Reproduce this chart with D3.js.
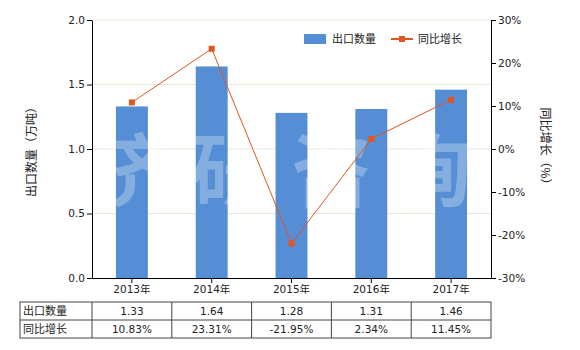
<!DOCTYPE html>
<html>
<head>
<meta charset="utf-8">
<script src="https://cdn.jsdelivr.net/npm/d3@7"></script>
<style>
  body { margin: 0; background: #fff; }
  svg, svg text { font-family: "DejaVu Sans", "Noto Sans CJK SC", sans-serif; }
  text { fill: #222; }
  .cjk { font-family: "Noto Sans CJK SC", sans-serif !important; }
</style>
</head>
<body>
<div id="chart"></div>
<script>
const years = ['2013年', '2014年', '2015年', '2016年', '2017年'];
const quantity = [1.33, 1.64, 1.28, 1.31, 1.46];
const growth = [10.83, 23.31, -21.95, 2.34, 11.45];
const quantityLabels = ['1.33', '1.64', '1.28', '1.31', '1.46'];
const growthLabels = ['10.83%', '23.31%', '-21.95%', '2.34%', '11.45%'];
const leftTicks = [0, 0.5, 1.0, 1.5, 2.0];
const rightTicks = [-30, -20, -10, 0, 10, 20, 30];

const W = 580, H = 350;
const margin = { top: 20, left: 92, right: 89, bottom: 72 };
const innerW = W - margin.left - margin.right;
const innerH = H - margin.top - margin.bottom;

const svg = d3.select('#chart').append('svg')
  .attr('width', W).attr('height', H);

const g = svg.append('g')
  .attr('transform', `translate(${margin.left},${margin.top})`);

// scales
const x = d3.scaleBand().domain(years).range([0, innerW]);
const yL = d3.scaleLinear().domain([0, 2]).range([innerH, 0]);
const yR = d3.scaleLinear().domain([-30, 30]).range([innerH, 0]);

// gridlines
g.selectAll('.grid').data(leftTicks.filter(d => d > 0)).enter()
  .append('line')
  .attr('x1', 0).attr('x2', innerW)
  .attr('y1', d => yL(d)).attr('y2', d => yL(d))
  .attr('stroke', '#ece8d8').attr('stroke-width', 1);

// bars
const barW = x.bandwidth() * 0.4;
g.selectAll('.bar').data(quantity).enter()
  .append('rect')
  .attr('x', (d, i) => x(years[i]) + (x.bandwidth() - barW) / 2)
  .attr('y', d => yL(d))
  .attr('width', barW)
  .attr('height', d => innerH - yL(d))
  .attr('fill', '#558ed5');

// watermark
g.append('text')
  .attr('class', 'cjk')
  .attr('x', innerW / 2).attr('y', 180)
  .attr('text-anchor', 'middle')
  .style('font-size', '80px').style('font-weight', 'bold')
  .style('letter-spacing', '20px')
  .style('fill', '#fff').style('fill-opacity', 0.28)
  .text('济研咨询');

// line
const line = d3.line()
  .x((d, i) => x(years[i]) + x.bandwidth() / 2)
  .y(d => yR(d));
g.append('path').datum(growth)
  .attr('d', line)
  .attr('fill', 'none')
  .attr('stroke', '#e0561c').attr('stroke-width', 1);
g.selectAll('.pt').data(growth).enter()
  .append('rect')
  .attr('x', (d, i) => x(years[i]) + x.bandwidth() / 2 - 3)
  .attr('y', d => yR(d) - 3)
  .attr('width', 6).attr('height', 6)
  .attr('fill', '#e0561c');

// axes
const axisL = g.append('g')
  .call(d3.axisLeft(yL).tickValues(leftTicks).tickFormat(d3.format('.1f')).tickSize(5).tickSizeOuter(0));
const axisR = g.append('g')
  .attr('transform', `translate(${innerW},0)`)
  .call(d3.axisRight(yR).tickValues(rightTicks).tickFormat(d => d + '%').tickSize(5).tickSizeOuter(0));
const axisB = g.append('g')
  .attr('transform', `translate(0,${innerH})`)
  .call(d3.axisBottom(x).tickSize(5).tickSizeOuter(0));
[axisL, axisR, axisB].forEach(a => {
  a.attr('font-family', null);
  a.select('.domain').attr('stroke', '#000');
  a.selectAll('.tick line').attr('stroke', '#000');
  a.selectAll('.tick text').style('font-size', '10.5px').attr('fill', '#222');
});
axisL.selectAll('.tick text').attr('x', -7);
axisR.selectAll('.tick text').attr('x', 7);
axisB.selectAll('.tick text').attr('y', 8);

// axis titles
svg.append('text')
  .attr('class', 'cjk')
  .attr('transform', `translate(36,${margin.top + innerH / 2}) rotate(-90)`)
  .attr('text-anchor', 'middle').style('font-size', '12px')
  .text('出口数量（万吨）');
svg.append('text')
  .attr('class', 'cjk')
  .attr('transform', `translate(541,${margin.top + innerH / 2}) rotate(90)`)
  .attr('text-anchor', 'middle').style('font-size', '12px')
  .text('同比增长（%）');

// legend
const leg = svg.append('g');
leg.append('rect').attr('x', 304).attr('y', 34).attr('width', 22).attr('height', 10).attr('fill', '#558ed5');
leg.append('text').attr('class', 'cjk').attr('x', 332).attr('y', 43).style('font-size', '11px').text('出口数量');
leg.append('line').attr('x1', 391).attr('x2', 413).attr('y1', 39).attr('y2', 39)
  .attr('stroke', '#e0561c').attr('stroke-width', 2);
leg.append('rect').attr('x', 399).attr('y', 36).attr('width', 6).attr('height', 6).attr('fill', '#e0561c');
leg.append('text').attr('class', 'cjk').attr('x', 418).attr('y', 43).style('font-size', '11px').text('同比增长');

// data table
const tTop = 302, rowH = 18, tLeft = 20;
const rows = [['出口数量', quantityLabels], ['同比增长', growthLabels]];
const tbl = svg.append('g');
const colXs = [tLeft, margin.left].concat(years.map(y => margin.left + x(y) + x.bandwidth()));
tbl.append('rect').attr('x', tLeft).attr('y', tTop)
  .attr('width', margin.left + innerW - tLeft).attr('height', rowH * 2)
  .attr('fill', 'none').attr('stroke', '#444');
tbl.append('line').attr('x1', tLeft).attr('x2', margin.left + innerW)
  .attr('y1', tTop + rowH).attr('y2', tTop + rowH).attr('stroke', '#444');
colXs.slice(1, -1).forEach(cx => {
  tbl.append('line').attr('x1', cx).attr('x2', cx)
    .attr('y1', tTop).attr('y2', tTop + rowH * 2).attr('stroke', '#444');
});
rows.forEach((r, ri) => {
  const cy = tTop + rowH * ri + 13;
  tbl.append('text').attr('class', 'cjk').attr('x', tLeft + 3).attr('y', cy).style('font-size', '11px').text(r[0]);
  r[1].forEach((v, i) => {
    tbl.append('text')
      .attr('x', margin.left + x(years[i]) + x.bandwidth() / 2).attr('y', cy)
      .attr('text-anchor', 'middle').style('font-size', '10.5px').text(v);
  });
});
</script>
</body>
</html>
